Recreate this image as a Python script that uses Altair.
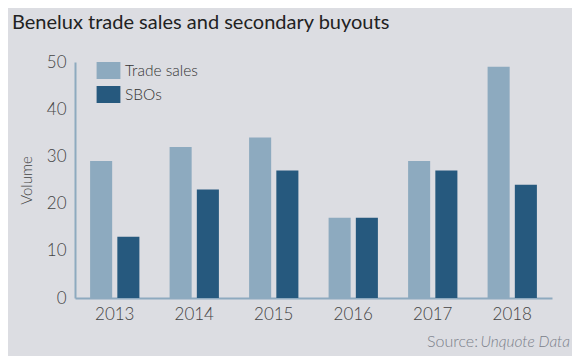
import altair as alt
import pandas as pd

years = ["2013", "2014", "2015", "2016", "2017", "2018"]
trade_sales = [29, 32, 34, 17, 29, 49]
sbos = [13, 23, 27, 17, 27, 24]
series = ["Trade sales", "SBOs"]
colors = ["#8daabf", "#26597e"]

rows = []
for i, y in enumerate(years):
    rows.append({"year": y, "series": series[0], "value": trade_sales[i]})
    rows.append({"year": y, "series": series[1], "value": sbos[i]})
df = pd.DataFrame(rows)

FONT = "Lato"
W, H = 477, 236

bars = alt.Chart(df).mark_bar().encode(
    x=alt.X("year:N", sort=years, title=None,
            scale=alt.Scale(paddingInner=0.38, paddingOuter=0.19),
            axis=alt.Axis(labelAngle=0, ticks=False, labelPadding=8,
                          domainColor="#8eaabf", domainWidth=2)),
    xOffset=alt.XOffset("series:N", sort=series,
                        scale=alt.Scale(paddingInner=0.19, paddingOuter=0)),
    y=alt.Y("value:Q", title="Volume",
            scale=alt.Scale(domain=[0, 50], nice=False),
            axis=alt.Axis(values=[0, 10, 20, 30, 40, 50], grid=False, ticks=False,
                          labelPadding=9, domainColor="#8eaabf", domainWidth=2,
                          titlePadding=12)),
    color=alt.Color("series:N", sort=series,
                    scale=alt.Scale(domain=series, range=colors),
                    legend=alt.Legend(title=None, orient="none", legendX=25, legendY=0,
                                      symbolType="M-1.4,-1L1.4,-1L1.4,1L-1.4,1Z",
                                      symbolSize=289, symbolStrokeWidth=0,
                                      labelFontSize=15.5, labelFont=FONT, labelColor="#333333",
                                      labelFontWeight=300,
                                      labelOffset=8, rowPadding=7)),
)

title_df = pd.DataFrame({"t": ["Benelux trade sales and secondary buyouts"]})
title = alt.Chart(title_df).mark_text(
    align="left", baseline="alphabetic", font=FONT, fontSize=20, color="#222222"
).encode(x=alt.value(-63), y=alt.value(-33), text="t:N")

src1 = alt.Chart(pd.DataFrame({"t": ["Source:"]})).mark_text(
    align="right", baseline="alphabetic", font=FONT, fontSize=16, fontWeight=300,
    color="#7b808a"
).encode(x=alt.value(403), y=alt.value(49 + H), text="t:N")
src2 = alt.Chart(pd.DataFrame({"t": ["Unquote Data"]})).mark_text(
    align="right", baseline="alphabetic", font=FONT, fontSize=15.5, fontStyle="italic",
    fontWeight=300, color="#7b808a"
).encode(x=alt.value(495), y=alt.value(49 + H), text="t:N")

chart = alt.layer(bars, title, src1, src2).properties(
    width=W, height=H,
    background="#dcdde2",
    padding={"left": 67, "top": 54, "right": 20, "bottom": 58},
    autosize=alt.AutoSizeParams(type="none"),
).configure_view(stroke=None).configure_axis(
    labelFont=FONT, labelFontSize=17, labelColor="#444444", labelFontWeight=300,
    titleFont=FONT, titleFontSize=15, titleFontWeight=300, titleColor="#444444",
)

chart.save("out.html", embed_options={"renderer": "svg", "actions": False})
